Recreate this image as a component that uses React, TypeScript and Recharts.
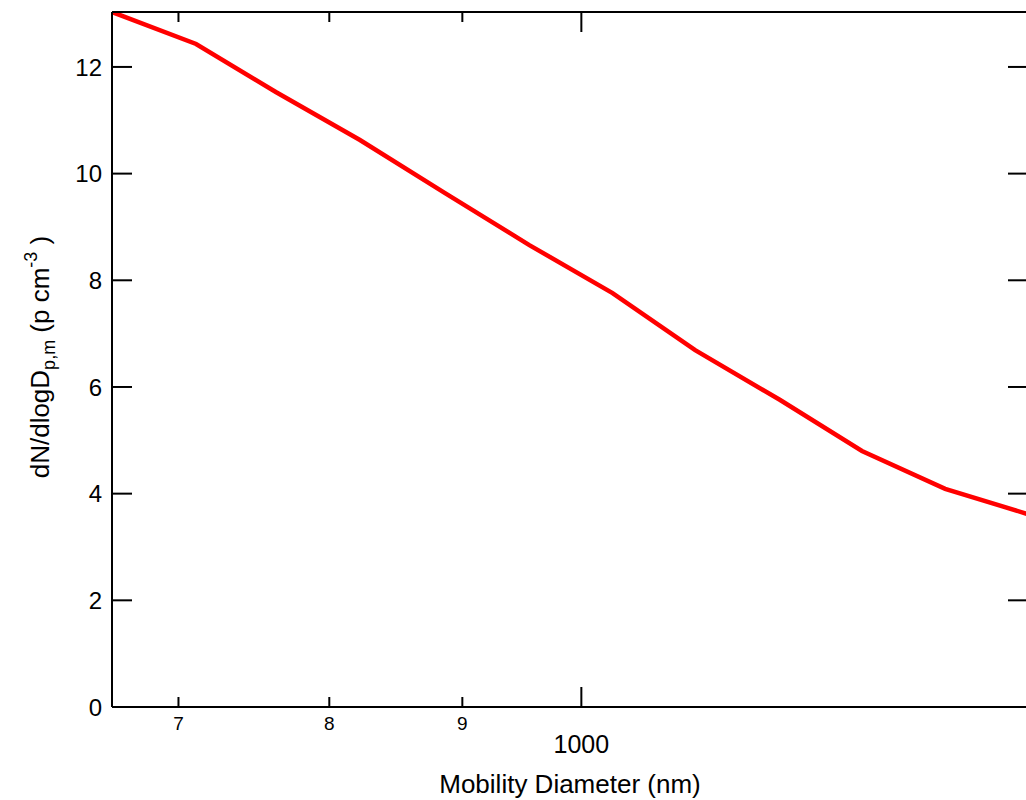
import React from 'react';
import { LineChart, Line, XAxis, YAxis } from 'recharts';

// mobility diameter (nm) and dN/dlogDp,m
const diameters = [660, 711, 763, 822, 886, 955, 1028, 1106, 1192, 1282, 1380, 1484];
const concentrations = [13.03, 12.43, 11.53, 10.63, 9.64, 8.66, 7.76, 6.69, 5.76, 4.8, 4.09, 3.62];

const xTicks = [700, 800, 900, 1000];
const xTickLabels = ['7', '8', '9', '1000'];
const yTicks = [0, 2, 4, 6, 8, 10, 12];

const X_DOMAIN: [number, number] = [660, 1485];
const Y_DOMAIN: [number, number] = [0, 13.03];

const FONT = "'Liberation Sans', Arial, sans-serif";

const data = diameters.map((d, i) => ({ d, n: concentrations[i] }));

const BottomTick = (props: any) => {
  const { x, y, payload } = props;
  const i = xTicks.indexOf(payload.value);
  const major = payload.value === 1000;
  return (
    <g>
      <line x1={x} x2={x} y1={y} y2={y - (major ? 20 : 10)} stroke="#000" strokeWidth={2} />
      <text
        x={x}
        y={y + (major ? 46 : 23)}
        textAnchor="middle"
        fontSize={major ? 25 : 19}
        fontFamily={FONT}
        fill="#000"
      >
        {xTickLabels[i]}
      </text>
    </g>
  );
};

const TopTick = (props: any) => {
  const { x, y, payload } = props;
  const major = payload.value === 1000;
  return <line x1={x} x2={x} y1={y} y2={y + (major ? 20 : 10)} stroke="#000" strokeWidth={2} />;
};

const LeftTick = (props: any) => {
  const { x, y, payload } = props;
  return (
    <g>
      <line x1={x} x2={x + 20} y1={y} y2={y} stroke="#000" strokeWidth={2} />
      <text x={x - 10} y={y} dy="0.36em" textAnchor="end" fontSize={24} fontFamily={FONT} fill="#000">
        {payload.value}
      </text>
    </g>
  );
};

const RightTick = (props: any) => {
  const { x, y } = props;
  return <line x1={x} x2={x - 20} y1={y} y2={y} stroke="#000" strokeWidth={2} />;
};

const axisLine = { stroke: '#000', strokeWidth: 2 };

export default function App() {
  return (
    <div
      style={{
        position: 'absolute',
        left: 0,
        top: 0,
        width: 1026,
        height: 800,
        overflow: 'hidden',
        background: '#fff',
        fontFamily: FONT,
      }}
    >
      <LineChart width={1030} height={800} data={data} margin={{ top: 0, right: 0, bottom: 0, left: 0 }}>
        <XAxis
          dataKey="d"
          type="number"
          scale="log"
          domain={X_DOMAIN}
          allowDataOverflow
          ticks={xTicks}
          interval={0}
          height={93}
          tickSize={0}
          tickMargin={0}
          tickLine={false}
          axisLine={axisLine}
          tick={BottomTick}
        />
        <XAxis
          xAxisId="top"
          orientation="top"
          dataKey="d"
          type="number"
          scale="log"
          domain={X_DOMAIN}
          allowDataOverflow
          ticks={xTicks}
          interval={0}
          height={12}
          tickSize={0}
          tickMargin={0}
          tickLine={false}
          axisLine={axisLine}
          tick={TopTick}
        />
        <YAxis
          type="number"
          domain={Y_DOMAIN}
          allowDataOverflow
          ticks={yTicks}
          interval={0}
          width={112}
          tickSize={0}
          tickMargin={0}
          tickLine={false}
          axisLine={axisLine}
          tick={LeftTick}
        />
        <YAxis
          yAxisId="right"
          orientation="right"
          type="number"
          domain={Y_DOMAIN}
          allowDataOverflow
          ticks={yTicks}
          interval={0}
          width={2}
          tickSize={0}
          tickMargin={0}
          tickLine={false}
          axisLine={axisLine}
          tick={RightTick}
        />
        <Line
          type="linear"
          dataKey="n"
          stroke="#ff0000"
          strokeWidth={4.5}
          dot={false}
          isAnimationActive={false}
        />
      </LineChart>

      {/* y axis title */}
      <div
        style={{
          position: 'absolute',
          left: 41,
          top: 357,
          width: 320,
          lineHeight: '30px',
          fontSize: 26,
          textAlign: 'center',
          whiteSpace: 'nowrap',
          transform: 'translate(-50%, -50%) rotate(-90deg)',
        }}
      >
        dN/dlogD
        <span style={{ fontSize: 18, position: 'relative', top: 6 }}>p,m</span> (p cm
        <span style={{ fontSize: 18, position: 'relative', top: -12 }}>-3</span> )
      </div>

      {/* x axis title */}
      <div
        style={{
          position: 'absolute',
          left: 570,
          top: 769,
          lineHeight: '30px',
          fontSize: 26,
          whiteSpace: 'nowrap',
          transform: 'translateX(-50%)',
        }}
      >
        Mobility Diameter (nm)
      </div>
    </div>
  );
}
